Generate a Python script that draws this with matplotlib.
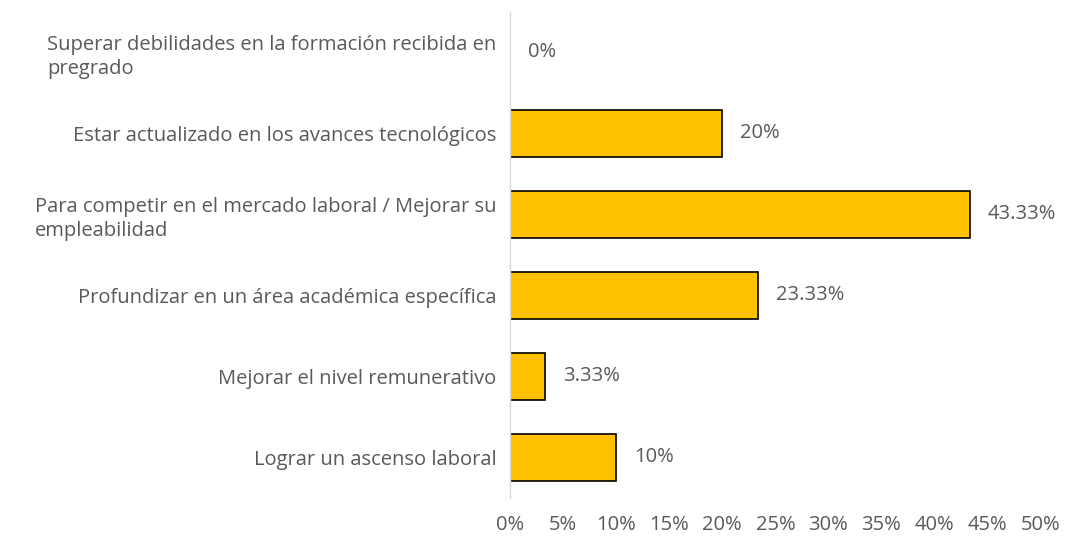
import matplotlib.pyplot as plt
from matplotlib.ticker import FuncFormatter

categorias = [
    "Superar debilidades en la formación recibida en\npregrado",
    "Estar actualizado en los avances tecnológicos",
    "Para competir en el mercado laboral / Mejorar su\nempleabilidad",
    "Profundizar en un área académica específica",
    "Mejorar el nivel remunerativo",
    "Lograr un ascenso laboral",
]
valores = [0, 20, 43.33, 23.33, 3.33, 10]
etiquetas = ["0%", "20%", "43.33%", "23.33%", "3.33%", "10%"]

plt.rcParams['font.family'] = ['Open Sans', 'DejaVu Sans']
gris = '#595959'
fs = 14.5

fig = plt.figure(figsize=(10.65, 5.36), dpi=100)
ax = fig.add_axes([0.479, 0.071, 0.498, 0.907])

y = list(range(len(categorias)))[::-1]
ax.barh(y, valores, height=0.58, color='#FFC000', edgecolor='black', linewidth=1.2)

for yi, v, t in zip(y, valores, etiquetas):
    ax.text(v + 1.7, yi, t, va='center', ha='left', fontsize=fs, color=gris)

ax.set_xlim(0, 50)
ax.set_ylim(-0.5, 5.5)
ax.set_xticks(range(0, 51, 5))
ax.xaxis.set_major_formatter(FuncFormatter(lambda x, p: f"{int(x)}%"))
ax.set_yticks(y)
ax.set_yticklabels(categorias, multialignment='left', linespacing=1.3)
ax.tick_params(axis='both', length=0, labelsize=fs, labelcolor=gris)
ax.tick_params(axis='x', pad=12)
ax.tick_params(axis='y', pad=10)

for s in ['top', 'right', 'bottom']:
    ax.spines[s].set_visible(False)
ax.spines['left'].set_color('#D9D9D9')
ax.spines['left'].set_linewidth(1)

fig.savefig('out.png', dpi=100)
